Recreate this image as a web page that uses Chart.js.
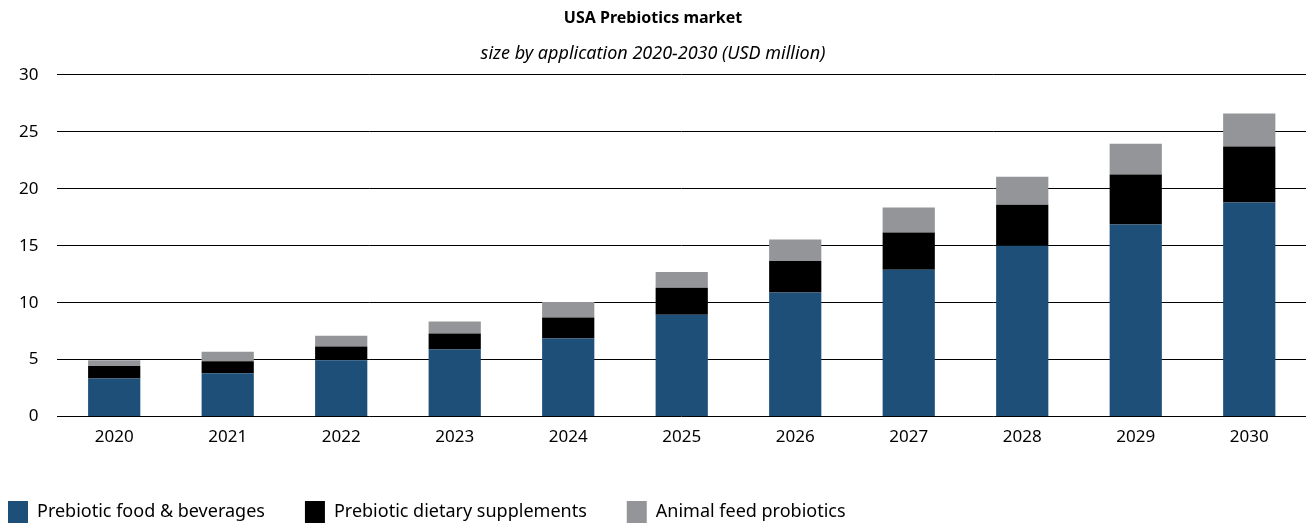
<!DOCTYPE html>
<html>
<head>
<meta charset="utf-8">
<script src="https://cdn.jsdelivr.net/npm/chart.js@4/dist/chart.umd.min.js"></script>
<style>
  html, body { margin: 0; padding: 0; background: #fff; }
  #wrap { width: 1311px; height: 523px; position: relative; }
</style>
</head>
<body>
<div id="wrap"><canvas id="chart"></canvas></div>
<script>
// values (USD million)
const years = ["2020", "2021", "2022", "2023", "2024", "2025", "2026", "2027", "2028", "2029", "2030"];
const foodBeverages = [3.35, 3.8, 4.95, 5.9, 6.85, 8.95, 10.9, 12.9, 15.0, 16.85, 18.8];
const dietarySupplements = [1.1, 1.05, 1.2, 1.4, 1.85, 2.35, 2.75, 3.25, 3.6, 4.4, 4.9];
const animalFeed = [0.5, 0.85, 0.95, 1.05, 1.35, 1.4, 1.9, 2.2, 2.45, 2.7, 2.9];
const yTicks = [0, 5, 10, 15, 20, 25, 30];

const FONT = "'Noto Sans', 'Open Sans', sans-serif";

// pull the legend row over to the left edge like in the original
const legendShift = {
    id: "legendShift",
    afterLayout(chart) {
        const lg = chart.legend;
        if (!lg) return;
        lg.left -= 32;
        lg.right -= 32;
    }
};

new Chart(document.getElementById("chart"), {
    type: "bar",
    data: {
        labels: years,
        datasets: [
            { label: "Prebiotic food & beverages", data: foodBeverages, backgroundColor: "#1d4f79" },
            { label: "Prebiotic dietary supplements", data: dietarySupplements, backgroundColor: "#000000" },
            { label: "Animal feed probiotics", data: animalFeed, backgroundColor: "#939598" }
        ]
    },
    plugins: [legendShift],
    options: {
        responsive: true,
        maintainAspectRatio: false,
        animation: false,
        layout: { padding: { left: 0, right: 5, top: 9, bottom: -10 } },
        datasets: {
            bar: { barPercentage: 0.46, categoryPercentage: 1.0 }
        },
        plugins: {
            title: {
                display: true,
                text: "USA Prebiotics market",
                color: "#000",
                font: { family: FONT, size: 16, weight: "bold" },
                padding: { top: 0, bottom: 15 }
            },
            subtitle: {
                display: true,
                text: "size by application 2020-2030 (USD million)",
                color: "#000",
                font: { family: FONT, size: 18, style: "italic" },
                padding: { top: 0, bottom: 10 }
            },
            legend: {
                position: "bottom",
                align: "start",
                labels: {
                    color: "#000",
                    font: { family: FONT, size: 18 },
                    boxWidth: 20,
                    boxHeight: 22,
                    padding: 40
                }
            },
            tooltip: { enabled: false }
        },
        scales: {
            x: {
                stacked: true,
                grid: { display: false },
                border: { display: false },
                ticks: { color: "#000", font: { family: FONT, size: 17 }, padding: 2 },
                afterFit: (axis) => { axis.height += 12; }
            },
            y: {
                stacked: true,
                min: 0,
                max: 30,
                afterBuildTicks: (axis) => { axis.ticks = yTicks.map(v => ({ value: v })); },
                grid: { color: "#000", lineWidth: 1, drawTicks: false },
                border: { display: false },
                ticks: { color: "#000", font: { family: FONT, size: 17 }, padding: 19 }
            }
        }
    }
});
</script>
</body>
</html>
